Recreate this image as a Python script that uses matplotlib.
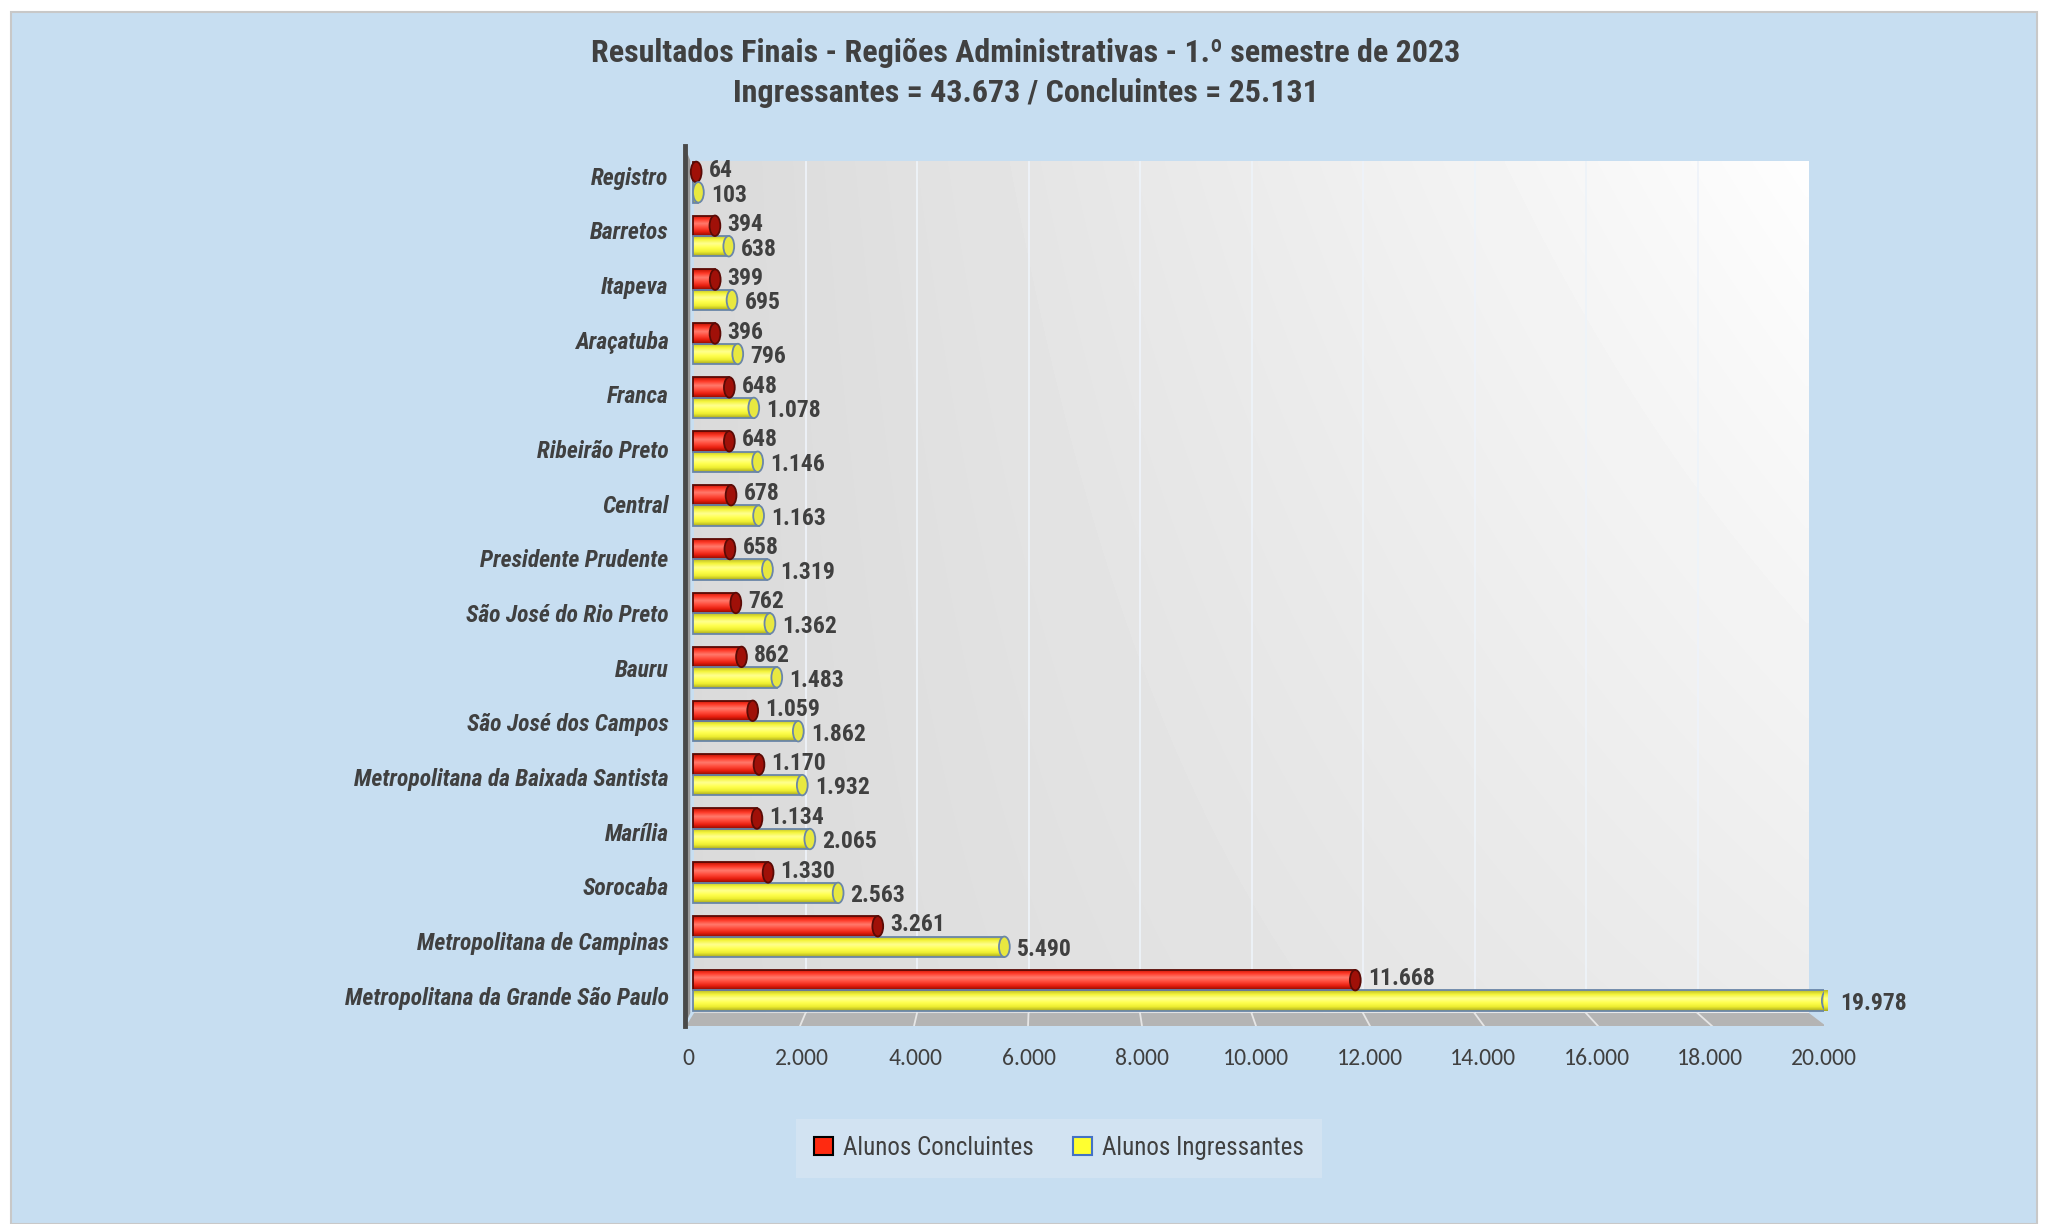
import numpy as np
import matplotlib.pyplot as plt
from matplotlib.colors import LinearSegmentedColormap
from matplotlib.patches import Rectangle, Ellipse, Polygon, Patch

# --- DONNÉES ---
regioes = ["Metropolitana da Grande São Paulo", "Metropolitana de Campinas", "Sorocaba",
           "Marília", "Metropolitana da Baixada Santista", "São José dos Campos", "Bauru",
           "São José do Rio Preto", "Presidente Prudente", "Central", "Ribeirão Preto",
           "Franca", "Araçatuba", "Itapeva", "Barretos", "Registro"]
concluintes = [11668, 3261, 1330, 1134, 1170, 1059, 862, 762, 658, 678, 648, 648, 396, 399, 394, 64]
ingressantes = [19978, 5490, 2563, 2065, 1932, 1862, 1483, 1362, 1319, 1163, 1146, 1078, 796, 695, 638, 103]
x_ticks = list(range(0, 20001, 2000))

# police étroite (repli sur DejaVu Sans Condensed)
NARROW = ['Roboto Condensed', 'DejaVu Sans']
TICKF = ['Carlito', 'Open Sans', 'DejaVu Sans']
TXT = '#404040'
BG = '#c7def1'

def fmt(v):
    return f"{v:,}".replace(",", ".")

fig = plt.figure(figsize=(20.5, 12.24), dpi=100)
fig.patch.set_facecolor('white')
fig.patches.append(Rectangle((11 / 2050, 0), (2037 - 11) / 2050, 1 - 12 / 1224,
                             transform=fig.transFigure, facecolor=BG,
                             edgecolor='#c8c8c8', linewidth=1.5, zorder=-10))

ax = fig.add_axes([688 / 2050, 1 - 1026 / 1224, 1136 / 2050, (1026 - 146) / 1224])
ax.set_facecolor('none')
ax.set_xlim(0, 20000)
ax.set_ylim(-0.66, 15.67)

# --- MUR DU FOND (dégradé) ---
xb0, xb1 = 106, 19736     # bord arrière
xf0, xf1 = -35, 20035     # bord avant
wall_top, wall_bot, floor_front = 15.38, -0.42, -0.66
gx, gy = np.meshgrid(np.linspace(0, 1, 200), np.linspace(0, 1, 200))
wall = 0.855 + 0.07 * gx + 0.07 * gy * gx
ax.imshow(wall, cmap='gray', vmin=0, vmax=1, origin='lower', aspect='auto',
          extent=(xb0, xb1, wall_bot, wall_top), zorder=0, interpolation='bilinear')
for v in x_ticks[1:-1]:
    xb = xb0 + v * (xb1 - xb0) / 20000
    ax.plot([xb, xb], [wall_bot, wall_top], color='#eef3f9', lw=1.3, zorder=1)

# --- SOL ---
ax.add_patch(Polygon([(xb0, wall_bot), (xb1, wall_bot), (xf1, floor_front), (xf0, floor_front)],
                     closed=True, facecolor='#b4b4b4', edgecolor='none', zorder=1))
for v in x_ticks[1:-1]:
    xb = xb0 + v * (xb1 - xb0) / 20000
    xf = xf0 + v * (xf1 - xf0) / 20000
    ax.plot([xb, xf], [wall_bot, floor_front], color='#e6e6e6', lw=1.3, zorder=2)

# --- AXE GAUCHE (effet 3D) ---
ax.add_patch(Polygon([(-60, floor_front), (-60, 15.67), (40, 15.4), (40, wall_bot)],
                     closed=True, facecolor='#9a9a9a', edgecolor='none', zorder=2, clip_on=False))
ax.plot([-60, -60], [floor_front, 15.67], color='#4a4a4a', lw=3.5, zorder=3, clip_on=False)

# --- BARRES CYLINDRIQUES ---
cmap_red = LinearSegmentedColormap.from_list('r', ['#8a0a00', '#e81e0e', '#ff4a3a', '#ff7a6c', '#ff3a28', '#c01000'])
cmap_yel = LinearSegmentedColormap.from_list('y', ['#a8a820', '#eeee30', '#ffff50', '#ffff90', '#f4f43a', '#b8b828'])
grad = np.linspace(0, 1, 64).reshape(-1, 1)
H = 0.38

def cylinder(val, yc, cmap, edge, cap_face):
    x0 = 80
    img = ax.imshow(grad, cmap=cmap, origin='lower', aspect='auto',
                    extent=(x0, val + 80, yc - H / 2, yc + H / 2), zorder=4, interpolation='bilinear')
    rect = Rectangle((x0, yc - H / 2), val, H, facecolor='none', edgecolor=edge, lw=1.3, zorder=5)
    ax.add_patch(rect)
    img.set_clip_path(rect)
    ax.add_patch(Ellipse((val + 80, yc), 190, H, facecolor=cap_face, edgecolor=edge, lw=1.3, zorder=6))

lab_kw = dict(textcoords='offset points', ha='left', va='center', fontsize=17,
              fontweight='bold', color=TXT, family=NARROW, fontstretch='condensed',
              zorder=7, annotation_clip=False)
ys = np.arange(len(regioes))
for i, y in enumerate(ys):
    yr, yy = y + 0.19, y - 0.19
    cylinder(concluintes[i], yr, cmap_red, '#5a0a05', '#a01008')
    cylinder(ingressantes[i], yy, cmap_yel, '#6a86a8', '#e8e840')
    ax.annotate(fmt(concluintes[i]), (concluintes[i] + 80, yr), xytext=(9, 1), **lab_kw)
    ax.annotate(fmt(ingressantes[i]), (ingressantes[i] + 80, yy), xytext=(9, -2), **lab_kw)

# --- AXES ---
for s in ax.spines.values():
    s.set_visible(False)
# étiquettes décalées par la perspective 3D
ax.set_yticks(ys - 0.1 + 0.22 * ys / 15)
ax.set_yticklabels(regioes, fontsize=17, fontweight='bold', fontstyle='italic', color=TXT,
                   family=NARROW, fontstretch='condensed')
ax.set_xticks(x_ticks)
ax.set_xticklabels([fmt(v) for v in x_ticks], fontsize=17, color=TXT, family=TICKF)
ax.tick_params(axis='y', length=0, pad=14)
ax.tick_params(axis='x', length=0, pad=16)

# --- TITRE ---
title_kw = dict(ha='center', va='center', fontsize=23, fontweight='bold', color=TXT,
                family=NARROW, fontstretch='condensed')
fig.text(0.5005, 0.957, "Resultados Finais - Regiões Administrativas - 1.º semestre de 2023", **title_kw)
fig.text(0.5005, 0.924, "Ingressantes = 43.673 / Concluintes = 25.131", **title_kw)

# --- LÉGENDE ---
handles = [Patch(facecolor='#ff2a10', edgecolor='black', lw=1.5, label='Alunos Concluintes'),
           Patch(facecolor='#ffff30', edgecolor='#4472c4', lw=1.5, label='Alunos Ingressantes')]
leg = fig.legend(handles=handles, loc='center', bbox_to_anchor=(1059 / 2050, 1 - 1148 / 1224),
                 ncol=2, frameon=True, fancybox=False, handlelength=0.75, handleheight=0.75,
                 columnspacing=1.6, handletextpad=0.4, borderpad=0.7,
                 prop={'family': NARROW, 'size': 18, 'stretch': 'condensed'})
leg.get_frame().set_facecolor('#d5e5f3')
leg.get_frame().set_edgecolor('none')
for t in leg.get_texts():
    t.set_color(TXT)

fig.savefig('out.png', dpi=100)
